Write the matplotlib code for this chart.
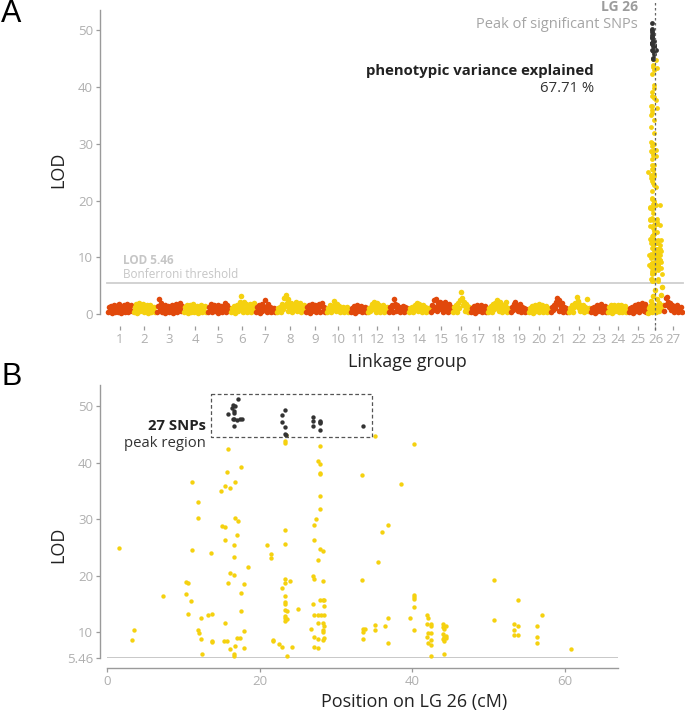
import numpy as np
import matplotlib
matplotlib.use('Agg')
import matplotlib.pyplot as plt

plt.rcParams['font.family'] = ['Open Sans', 'DejaVu Sans']

# ---- data ----
lg_names = [str(i) for i in range(1, 28)]
# approximate linkage group lengths (cM)
lg_lengths = [114, 101, 119, 106, 101, 110, 92, 128, 92, 106, 75, 92, 88, 97,
              97, 79, 75, 101, 79, 97, 79, 97, 75, 92, 88, 66, 88]

lod_lg1 = [0.3, 1.2, 0.6, 1.4, 0.2, 0.9, 1.6, 0.4, 1.1, 0.7, 1.5, 0.3, 1.8, 0.8, 0.2, 1.3, 0.6, 1.6, 0.4, 1.0, 1.7, 0.3, 1.2, 0.7, 1.5, 0.5]
lod_lg2 = [0.4, 1.3, 0.7, 1.8, 0.2, 1.0, 1.9, 0.5, 1.4, 0.8, 1.7, 0.3, 1.2, 0.6, 1.6, 0.2, 1.1, 0.7, 1.5, 0.4, 1.3, 0.8, 1.2, 0.3]
lod_lg3 = [0.3, 1.4, 2.6, 0.7, 1.9, 0.4, 1.2, 0.8, 1.6, 0.2, 1.1, 0.6, 1.4, 0.3, 1.0, 0.7, 1.5, 0.2, 1.2, 0.8, 1.7, 0.4, 1.3, 0.9, 1.9, 0.5, 1.4]
lod_lg4 = [0.3, 1.3, 0.6, 1.6, 0.2, 1.0, 1.5, 0.4, 1.2, 0.7, 1.7, 0.3, 1.1, 0.6, 1.4, 0.2, 1.0, 0.8, 1.6, 0.4, 1.2, 0.6, 1.4, 0.3]
lod_lg5 = [0.4, 1.2, 0.7, 1.7, 0.3, 1.0, 1.5, 0.5, 1.3, 0.8, 1.6, 0.2, 1.1, 0.6, 1.4, 0.3, 1.2, 0.7, 1.9, 0.4, 1.5, 0.8, 1.1]
lod_lg6 = [0.3, 1.1, 0.6, 1.4, 0.2, 1.0, 1.6, 0.5, 1.3, 2.2, 0.8, 3.2, 1.5, 0.4, 2.1, 0.9, 1.7, 0.3, 1.2, 0.6, 1.8, 0.4, 1.4, 0.7, 2.0]
lod_lg7 = [0.3, 1.3, 0.7, 1.6, 0.2, 1.1, 1.8, 0.5, 1.4, 0.8, 2.4, 1.2, 0.4, 1.7, 0.6, 1.2, 0.3, 1.0, 0.6, 1.1, 0.4]
lod_lg8 = [0.4, 1.0, 0.6, 1.3, 0.3, 1.8, 0.8, 2.9, 1.4, 3.4, 2.0, 0.5, 2.6, 1.2, 0.7, 1.9, 0.3, 1.6, 0.9, 1.4, 2.2, 0.5, 1.2, 0.8, 2.0, 0.4, 1.3, 0.7, 1.5]
lod_lg9 = [0.3, 1.2, 0.6, 1.5, 0.2, 1.0, 1.7, 0.5, 1.3, 0.8, 1.6, 0.3, 1.1, 0.7, 1.8, 0.4, 1.4, 2.0, 0.6, 1.2, 0.3]
lod_lg10 = [0.4, 1.1, 0.7, 1.5, 0.3, 1.2, 0.9, 1.6, 2.3, 1.3, 0.5, 1.7, 0.8, 1.4, 0.3, 1.1, 0.6, 1.3, 0.4, 1.0, 0.7, 1.2, 0.3, 0.9]
lod_lg11 = [0.3, 1.1, 0.6, 1.4, 0.2, 1.0, 1.5, 0.5, 1.2, 0.8, 1.4, 0.3, 1.0, 0.6, 1.3, 0.4, 1.1]
lod_lg12 = [0.4, 1.0, 0.6, 1.3, 1.8, 0.8, 2.2, 1.5, 0.3, 1.9, 1.1, 0.6, 1.6, 0.4, 1.3, 0.7, 1.5, 0.3, 1.1, 0.6, 1.2]
lod_lg13 = [0.3, 1.2, 0.7, 1.6, 0.4, 1.4, 2.6, 1.8, 0.6, 1.5, 0.9, 1.3, 0.3, 1.1, 0.7, 1.4, 0.4, 1.2, 0.6, 1.0]
lod_lg14 = [0.4, 1.0, 0.6, 1.2, 0.3, 1.1, 1.6, 0.8, 2.0, 1.4, 0.5, 1.7, 0.9, 1.3, 0.4, 1.5, 0.7, 1.2, 0.3, 1.0, 0.6, 1.1]
lod_lg15 = [0.4, 1.6, 0.7, 2.5, 1.2, 2.6, 0.5, 1.9, 1.3, 2.2, 0.8, 1.5, 0.3, 1.8, 1.1, 2.1, 0.6, 1.4, 0.4, 1.7, 1.0, 1.3]
lod_lg16 = [0.3, 1.2, 0.7, 1.5, 0.4, 1.9, 1.1, 2.4, 3.8, 2.8, 1.6, 2.2, 0.6, 1.8, 1.0, 1.4, 0.3, 1.2]
lod_lg17 = [0.3, 1.1, 0.6, 1.4, 0.2, 1.0, 1.5, 0.5, 1.3, 0.8, 1.6, 0.3, 1.2, 0.6, 1.4, 0.4, 1.1]
lod_lg18 = [0.3, 1.1, 0.6, 1.4, 0.4, 1.7, 0.8, 2.0, 1.2, 2.5, 1.6, 0.5, 2.2, 1.0, 1.7, 0.4, 1.3, 0.7, 1.5, 2.2, 0.3, 1.1, 0.6]
lod_lg19 = [0.4, 1.3, 0.7, 1.8, 2.2, 1.0, 1.6, 0.5, 1.4, 0.8, 1.7, 0.3, 1.2, 0.6, 1.1, 0.3, 0.9, 0.5]
lod_lg20 = [0.3, 1.1, 0.6, 1.4, 0.2, 1.0, 1.6, 0.5, 1.3, 0.8, 1.7, 0.4, 1.2, 0.7, 1.5, 0.3, 1.1, 0.6, 1.4, 0.4, 1.0, 0.5]
lod_lg21 = [0.4, 1.2, 0.7, 1.6, 1.1, 2.1, 2.9, 1.8, 2.4, 0.6, 1.5, 0.9, 1.9, 0.4, 1.3, 0.7, 1.1, 0.3]
lod_lg22 = [0.4, 1.1, 0.7, 1.5, 0.3, 1.3, 2.0, 1.6, 3.0, 2.3, 1.1, 1.8, 0.6, 1.4, 0.9, 1.6, 0.4, 1.2, 0.7, 2.6, 0.5, 1.0]
lod_lg23 = [0.3, 1.0, 0.6, 1.3, 0.2, 1.1, 1.5, 0.5, 1.2, 0.8, 1.8, 0.4, 1.2, 0.6, 1.4, 0.3, 1.0]
lod_lg24 = [0.3, 1.2, 0.6, 1.5, 0.2, 1.0, 1.6, 0.5, 1.3, 0.7, 1.5, 0.3, 1.1, 0.8, 1.6, 0.4, 1.2, 0.6, 1.4, 0.3, 0.9]
lod_lg25 = [0.3, 1.0, 0.6, 1.3, 0.2, 1.1, 1.5, 0.5, 1.3, 0.8, 1.7, 0.4, 1.5, 0.9, 2.0, 1.4, 0.6, 1.8, 0.4, 1.2]
lod_lg26_low = [0.2, 1.0, 0.6, 1.4, 2.3, 0.4, 1.8, 3.1, 0.8, 1.5, 4.2, 0.3, 1.2, 2.6, 0.7, 1.9, 0.5, 1.1, 3.4, 0.9, 4.8, 1.6]
lod_lg27 = [0.5, 1.6, 2.9, 3.0, 2.2, 1.2, 2.0, 0.7, 1.6, 1.0, 1.4, 0.4, 1.3, 0.8, 1.5, 0.3, 1.1, 0.6, 1.2, 0.4]

# LG 26 significant SNPs (position cM, LOD)
lg26_pos = [1.6, 3.3, 3.5, 7.4, 10.3, 10.6, 10.3, 11.0, 10.6, 11.2, 11.2, 11.9, 11.9, 11.9, 12.1,
            12.3, 12.5, 12.3, 13.2, 13.8, 13.8, 13.8, 13.6, 14.9, 15.1, 15.5, 15.3, 15.7, 15.5, 15.5,
            15.5, 15.7, 15.9, 15.9, 16.1, 16.6, 16.1, 16.6, 16.6, 16.1, 16.6, 16.6, 16.8, 16.8, 16.8,
            17.0, 17.4, 17.1, 17.2, 17.6, 17.6, 17.6, 17.9, 17.9, 17.9, 18.5,
            21.0, 21.5, 21.5, 21.7, 21.7, 22.5, 22.9, 22.9, 23.4, 23.4, 24.0, 23.4, 23.4, 23.4, 23.4,
            23.6, 23.4, 23.4, 23.6, 23.4, 24.2, 23.6, 25.1, 23.4, 23.3, 23.4, 23.4, 23.5,
            26.8, 27.0, 27.2, 27.0, 27.2, 27.2, 27.7, 27.7, 28.3, 28.5, 27.7, 28.3, 28.5, 28.3, 28.3,
            27.2, 27.6, 28.1, 28.5, 27.9, 28.3, 28.5, 28.5, 28.3, 27.7, 27.9, 28.3, 27.2, 27.2, 27.4,
            27.9, 27.9, 27.9, 27.9, 27.9, 27.7, 27.9,
            33.4, 33.4, 33.6, 33.6, 33.8, 33.6, 35.1, 35.1, 35.1, 35.5, 36.0, 36.4, 36.8, 36.8, 36.8,
            38.5, 39.7, 40.2, 40.2, 40.2, 40.2, 40.2, 40.2, 41.9, 42.1, 41.9, 42.5, 42.5, 42.1, 42.5,
            41.9, 42.1, 42.5, 42.5, 42.5, 44.0, 44.4, 44.0, 44.2, 44.0, 44.4, 44.2, 44.0, 44.4, 44.2,
            44.2, 50.7, 50.7, 53.4, 53.9, 53.4, 53.4, 53.9, 53.9, 56.4, 56.4, 56.4, 57.0, 60.9]
lg26_lod = [25.0, 8.6, 10.4, 16.5, 18.9, 18.7, 16.8, 15.6, 13.2, 24.5, 36.6, 33.0, 30.3, 10.5, 9.9,
            8.8, 6.1, 12.5, 13.1, 13.2, 8.5, 8.3, 24.0, 35.1, 28.8, 28.6, 8.5, 8.4, 11.6, 26.3,
            36.0, 38.4, 42.4, 18.7, 20.5, 20.2, 35.5, 23.4, 25.5, 7.1, 6.1, 5.8, 7.6, 36.7, 30.2,
            9.0, 9.0, 27.3, 29.7, 39.2, 13.7, 17.0, 18.5, 10.2, 7.2, 21.6,
            25.4, 23.9, 23.1, 8.7, 8.4, 8.0, 7.4, 17.8, 19.4, 18.8, 19.1, 16.5, 15.4, 15.1, 14.0,
            13.7, 12.9, 12.5, 12.4, 12.1, 7.4, 5.9, 14.1, 25.6, 28.1, 43.9, 43.5, 44.9,
            10.6, 19.9, 19.5, 15.1, 9.2, 7.4, 7.3, 8.8, 8.7, 9.0, 11.7, 11.7, 11.1, 10.5, 10.0,
            13.0, 13.0, 13.0, 13.0, 15.7, 15.7, 15.7, 14.6, 19.1, 22.8, 24.7, 24.4, 26.3, 29.0, 30.0,
            31.9, 34.2, 38.0, 38.3, 39.8, 40.3, 43.0,
            37.8, 19.2, 10.6, 10.0, 10.6, 8.9, 44.7, 11.3, 10.5, 22.4, 27.8, 11.1, 29.0, 12.5, 8.2,
            36.3, 12.5, 43.3, 16.7, 16.2, 15.9, 14.5, 10.4, 13.0, 12.6, 11.5, 11.4, 11.1, 9.9, 9.9,
            9.1, 8.1, 8.6, 7.8, 5.9, 11.5, 11.2, 11.0, 10.6, 9.7, 9.3, 9.2, 8.9, 9.0, 8.5,
            6.1, 19.3, 12.2, 11.4, 11.2, 10.4, 9.6, 9.6, 15.7, 11.1, 9.1, 8.1, 13.0, 7.1]

# peak region (27 SNPs)
peak_pos = [17.2, 16.5, 16.8, 16.7, 16.7, 15.9, 16.5, 17.0, 17.4, 17.7, 16.7, 16.4, 16.6,
            23.4, 22.9, 22.9, 23.4, 23.4, 23.5,
            27.0, 27.0, 27.0, 27.9, 27.9, 27.9, 27.9, 33.6]
peak_lod = [51.3, 50.2, 50.1, 49.2, 48.9, 48.6, 47.7, 47.6, 47.7, 47.7, 46.5, 49.8, 47.7,
            49.3, 48.5, 47.3, 46.4, 45.2, 45.0,
            48.2, 47.4, 46.6, 47.5, 47.1, 45.8, 47.3, 46.6]

threshold = 5.46
pve = 67.71
peak_lg = 26

lod_by_lg = [lod_lg1, lod_lg2, lod_lg3, lod_lg4, lod_lg5, lod_lg6, lod_lg7, lod_lg8, lod_lg9,
             lod_lg10, lod_lg11, lod_lg12, lod_lg13, lod_lg14, lod_lg15, lod_lg16, lod_lg17,
             lod_lg18, lod_lg19, lod_lg20, lod_lg21, lod_lg22, lod_lg23, lod_lg24, lod_lg25,
             lod_lg26_low, lod_lg27]

RED = '#E1480B'
YELLOW = '#F5D10F'
DARK = '#333333'
GREY_TXT = '#AFAFAF'
GREY_AX = '#9A9A9A'

W, H = 685, 716
fig = plt.figure(figsize=(W / 100, H / 100), dpi=100)


def frac(x0, y0, x1, y1):
    # pixel box -> figure fraction rect
    return [x0 / W, 1 - y1 / H, (x1 - x0) / W, (y1 - y0) / H]


def px(x, y):
    return x / W, 1 - y / H


# ---------------- panel A ----------------
axA = fig.add_axes(frac(100, 10, 684, 320))
starts = np.concatenate([[0], np.cumsum(lg_lengths)[:-1]])
total = sum(lg_lengths)
cm_per_px = total / 576.0

for i, vals in enumerate(lod_by_lg):
    s, L = starts[i], lg_lengths[i]
    pos = np.linspace(s + 0.03 * L, s + 0.97 * L, len(vals))
    col = RED if i % 2 == 0 else YELLOW
    axA.scatter(pos, vals, s=16, color=col, linewidths=0, clip_on=False, zorder=2)

s26 = starts[peak_lg - 1]
axA.scatter(s26 + np.array(lg26_pos), lg26_lod, s=12, color=YELLOW, linewidths=0,
            clip_on=False, zorder=2)
axA.scatter(s26 + np.array(peak_pos), peak_lod, s=12, color=DARK, linewidths=0,
            clip_on=False, zorder=3)

axA.plot([0, total], [threshold, threshold], color='#CFCFCF', lw=1.3, zorder=1)
mid26 = s26 + lg_lengths[peak_lg - 1] / 2
axA.plot([mid26, mid26], [-2.9, 55.4], color='#666666', lw=0.9, ls=(0, (2, 2)),
         clip_on=False, zorder=4)

axA.set_xlim(-7 * cm_per_px, total + 1 * cm_per_px)
axA.set_ylim(-1.06, 53.6)
mids = starts + np.array(lg_lengths) / 2
axA.set_xticks(mids)
axA.set_xticklabels(lg_names)
axA.set_yticks([0, 10, 20, 30, 40, 50])
for sp in ['top', 'right']:
    axA.spines[sp].set_visible(False)
axA.spines['bottom'].set_position(('outward', 4.3))
axA.spines['bottom'].set_visible(False)
axA.spines['left'].set_bounds(0, 53.6)
axA.spines['left'].set_color(GREY_AX)
axA.spines['left'].set_linewidth(1.0)
axA.tick_params(axis='both', colors=GREY_AX, labelcolor=GREY_TXT, length=3, width=0.9,
                labelsize=9.5, pad=2)
axA.set_ylabel('LOD', fontsize=13, color='#222222')
axA.yaxis.set_label_coords(-(100 - 67) / 584, (320 - 170) / 310)
axA.set_xlabel('Linkage group', fontsize=13, color='#222222')
axA.xaxis.set_label_coords((407 - 100) / 584, -(353 - 320) / 310)

fig.text(*px(638, 7), 'LG 26', ha='right', va='center', fontsize=10, fontweight='bold',
         color='#9C9C9C')
fig.text(*px(638, 24), 'Peak of significant SNPs', ha='right', va='center', fontsize=10.5,
         color='#A5A5A5')
fig.text(*px(594, 71), 'phenotypic variance explained', ha='right', va='center',
         fontsize=10.7, fontweight='bold', color='#222222')
fig.text(*px(594, 89), f'{pve:.2f} %', ha='right', va='center', fontsize=10.7,
         color='#333333')
fig.text(*px(123, 260), f'LOD {threshold}', ha='left', va='center', fontsize=8.5,
         fontweight='bold', color='#C6C6C6')
fig.text(*px(123, 274), 'Bonferroni threshold', ha='left', va='center', fontsize=8.5,
         color='#C6C6C6')

# ---------------- panel B ----------------
axB = fig.add_axes(frac(107, 385, 618, 658))
axB.scatter(lg26_pos, lg26_lod, s=10, color=YELLOW, linewidths=0, clip_on=False, zorder=2)
axB.scatter(peak_pos, peak_lod, s=10, color=DARK, linewidths=0, clip_on=False, zorder=3)
axB.axhline(threshold, color='#C4C4C4', lw=1.3, zorder=1)

box_x = [13.7, 34.8, 34.8, 13.7, 13.7]
box_y = [52.2, 52.2, 44.6, 44.6, 52.2]
axB.plot(box_x, box_y, color='#555555', lw=0.9, ls=(0, (3, 2)), clip_on=False, zorder=4)

axB.set_xlim(0, 67)
axB.set_ylim(threshold, 53.8)
axB.set_xticks([0, 20, 40, 60])
axB.set_yticks([threshold, 10, 20, 30, 40, 50])
axB.set_yticklabels([f'{threshold}', '10', '20', '30', '40', '50'])
for sp in ['top', 'right']:
    axB.spines[sp].set_visible(False)
axB.spines['left'].set_position(('outward', 5))
axB.spines['bottom'].set_position(('outward', 7.2))
for sp in ['left', 'bottom']:
    axB.spines[sp].set_color(GREY_AX)
    axB.spines[sp].set_linewidth(1.0)
axB.tick_params(axis='both', colors=GREY_AX, labelcolor=GREY_TXT, length=3, width=0.9,
                labelsize=9.5, pad=2)
axB.set_ylabel('LOD', fontsize=13, color='#222222')
axB.yaxis.set_label_coords(-(107 - 67) / 511, (658 - 545) / 273)
axB.set_xlabel('Position on LG 26 (cM)', fontsize=13, color='#222222')
axB.xaxis.set_label_coords((414 - 107) / 511, -(693 - 658) / 273)

fig.text(*px(206, 426), '27 SNPs', ha='right', va='center', fontsize=10.7, fontweight='bold',
         color='#222222')
fig.text(*px(206, 443), 'peak region', ha='right', va='center', fontsize=10.7,
         color='#333333')

# panel letters
fig.text(*px(1, 14), 'A', ha='left', va='center', fontsize=22, family='Liberation Sans')
fig.text(*px(1, 377), 'B', ha='left', va='center', fontsize=22, family='Liberation Sans')

plt.savefig('out.png', dpi=100)
